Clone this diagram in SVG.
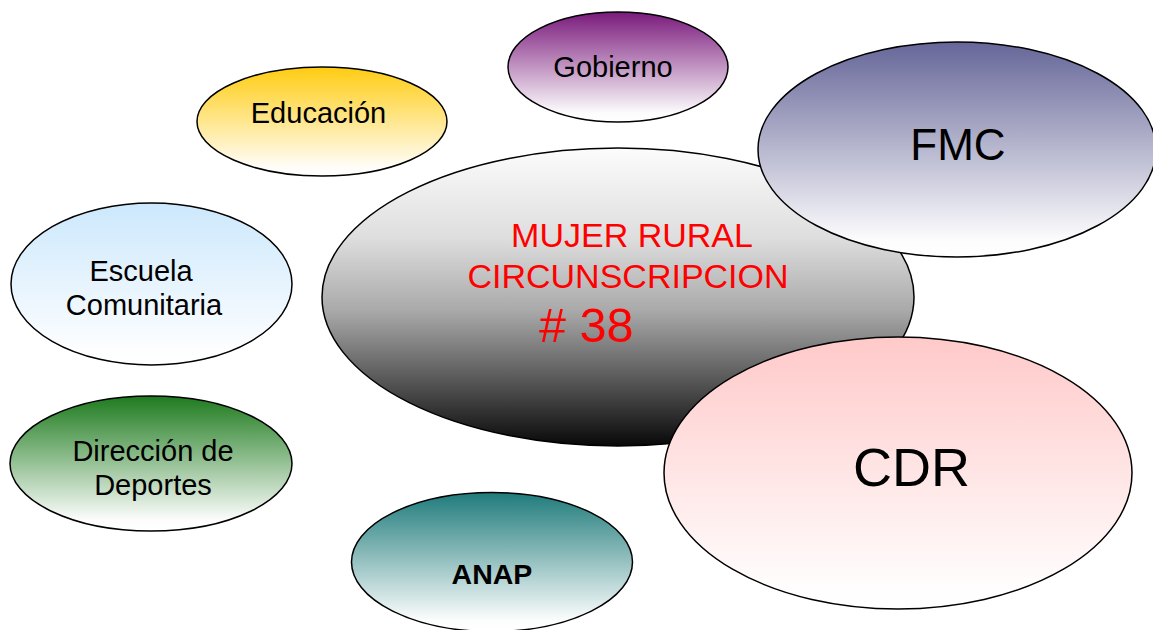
<svg xmlns="http://www.w3.org/2000/svg" width="1153" height="630" viewBox="0 0 1153 630">
<style>
.n{stroke:#000;stroke-width:1.5}
.t{font-family:"Liberation Sans",Arial,sans-serif;fill:#000;text-anchor:middle}
.r{font-family:"Liberation Sans",Arial,sans-serif;fill:#ff0000;text-anchor:middle}
</style>
<defs>
<linearGradient id="gGob" x1="0" y1="0" x2="0" y2="1"><stop offset="0" stop-color="#7a1a7c"/><stop offset="0.92" stop-color="#fdfcfd"/><stop offset="1" stop-color="#fff"/></linearGradient>
<linearGradient id="gEdu" x1="0" y1="0" x2="0" y2="1"><stop offset="0" stop-color="#ffcc11"/><stop offset="0.92" stop-color="#fffdf8"/><stop offset="1" stop-color="#fff"/></linearGradient>
<linearGradient id="gFmc" x1="0" y1="0" x2="0" y2="1"><stop offset="0" stop-color="#666699"/><stop offset="0.92" stop-color="#fcfcfd"/><stop offset="1" stop-color="#fff"/></linearGradient>
<linearGradient id="gEsc" x1="0" y1="0" x2="0" y2="1"><stop offset="0" stop-color="#cce8fc"/><stop offset="0.92" stop-color="#fdfeff"/><stop offset="1" stop-color="#fff"/></linearGradient>
<linearGradient id="gDir" x1="0" y1="0" x2="0" y2="1"><stop offset="0" stop-color="#1e7b1e"/><stop offset="0.92" stop-color="#fcfdfc"/><stop offset="1" stop-color="#fff"/></linearGradient>
<linearGradient id="gAnap" x1="0" y1="0" x2="0" y2="1"><stop offset="0" stop-color="#1f7b7b"/><stop offset="0.92" stop-color="#fcfdfd"/><stop offset="1" stop-color="#fff"/></linearGradient>
<linearGradient id="gCdr" x1="0" y1="0" x2="0" y2="1"><stop offset="0" stop-color="#ffc9c9"/><stop offset="0.92" stop-color="#fffdfd"/><stop offset="1" stop-color="#fff"/></linearGradient>
<linearGradient id="gMain" x1="0" y1="0" x2="0" y2="1"><stop offset="0" stop-color="#fcfcfc"/><stop offset="0.3" stop-color="#dedede"/><stop offset="0.55" stop-color="#a8a8a8"/><stop offset="0.8" stop-color="#505050"/><stop offset="1" stop-color="#080808"/></linearGradient>
</defs>
<g id="connectors"></g>
<g id="gobierno"><ellipse class="n" cx="618" cy="67" rx="110" ry="55" fill="url(#gGob)"/><text class="t" x="613" y="77" font-size="29">Gobierno</text></g>
<g id="educacion"><ellipse class="n" cx="322" cy="121.5" rx="125" ry="54.5" fill="url(#gEdu)"/><text class="t" x="318.5" y="122.5" font-size="29">Educación</text></g>
<g id="escuela"><ellipse class="n" cx="151.5" cy="284" rx="140.5" ry="81" fill="url(#gEsc)"/><text class="t" font-size="29"><tspan x="141" y="281">Escuela</tspan><tspan x="144" y="315">Comunitaria</tspan></text></g>
<g id="deportes"><ellipse class="n" cx="151" cy="463.5" rx="141" ry="67.5" fill="url(#gDir)"/><text class="t" font-size="29"><tspan x="153" y="461">Dirección de</tspan><tspan x="153" y="495">Deportes</tspan></text></g>
<g id="anap"><ellipse class="n" cx="492" cy="562" rx="140.5" ry="69.5" fill="url(#gAnap)"/><text class="t" x="492" y="584" font-size="28.5" font-weight="bold">ANAP</text></g>
<g id="mujer"><ellipse class="n" cx="618" cy="297" rx="296" ry="149" fill="url(#gMain)"/><text class="r" font-size="34"><tspan x="632" y="247">MUJER RURAL</tspan><tspan x="628" y="288">CIRCUNSCRIPCION</tspan></text><text x="539" y="342" font-size="48.5" fill="#ff0000" font-family="Liberation Sans, Arial, sans-serif">#  38</text></g>
<g id="fmc"><ellipse class="n" cx="957" cy="149.5" rx="199" ry="107.5" fill="url(#gFmc)"/><text class="t" x="958" y="160" font-size="44">FMC</text></g>
<g id="cdr"><ellipse class="n" cx="898" cy="473" rx="234" ry="136" fill="url(#gCdr)"/><text class="t" x="911.5" y="486" font-size="54">CDR</text></g>
</svg>
